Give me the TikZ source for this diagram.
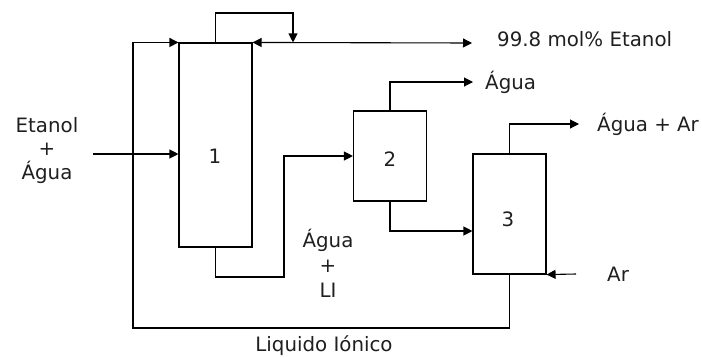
\documentclass[tikz,border=0pt]{standalone}
\usepackage{fontspec}
\setmainfont{DejaVu Sans}
\usetikzlibrary{arrows.meta}
\begin{document}
\begin{tikzpicture}[x=1bp,y=-1bp,
  unit/.style={draw,line width=1.1bp,minimum width=73bp,inner sep=0pt},
  flow/.style={line width=1.1bp,-{Triangle[length=9bp,width=9bp]}},
  dflow/.style={line width=1.1bp,{Triangle[length=9bp,width=9bp]}-{Triangle[length=9bp,width=9bp]}},
  txt/.style={inner sep=0pt,font=\fontsize{19.8bp}{24bp}\selectfont,text=black!88}]
\useasboundingbox (0,0) rectangle (702,357);
% units
\node[unit,minimum height=204bp] (u1) at (215.5,145) {};
\node[unit,minimum height=90bp] (u2) at (390,156) {};
\node[unit,minimum height=120bp] (u3) at (509.5,214) {};
\node[txt] (n1) at (215,156) {1};
\node[txt] (n2) at (390,159) {2};
\node[txt] (n3) at (508,219) {3};
% coordinates
\coordinate (feed) at (93,154);
\coordinate (loopA) at (215.5,13);
\coordinate (loopB) at (293,13);
\coordinate (topend) at (472,43);
\coordinate (rb) at (509.5,328);
\coordinate (rl) at (133,328);
\coordinate (b1) at (215.5,277);
\coordinate (b2) at (284,277);
\coordinate (t2) at (390,82);
\coordinate (t2e) at (473,82);
\coordinate (d2) at (390,231);
\coordinate (t3) at (509.5,124);
\coordinate (t3e) at (579,124);
\coordinate (ar) at (576,274);
% connectors
\draw[flow] (feed) -- (feed -| u1.west);
\draw[flow] (u1.north) -- (loopA) -- (loopB) -- (loopB |- u1.north);
\draw[dflow] (u1.north east) -- (topend);
\draw[flow] (u3.south) -- (rb) -- (rl) -- (rl |- u1.north) -- (u1.north west);
\draw[flow] (u1.south) -- (b1) -- (b2) -- (b2 |- u2.west) -- (u2.west);
\draw[flow] (u2.north) -- (t2) -- (t2e);
\draw[flow] (u2.south) -- (d2) -- (d2 -| u3.west);
\draw[flow] (u3.north) -- (t3) -- (t3e);
\draw[flow] (ar) -- (u3.south east);
% labels
\node[txt,anchor=base west] (tEt) at (497,46) {99.8 mol\% Etanol};
\node[txt,anchor=base west] (tAg) at (485,89) {Água};
\node[txt,anchor=base west] (tAgAr) at (597,131.5) {Água + Ar};
\node[txt,anchor=base west] (tAr) at (607,281.5) {Ar};
\node[txt,anchor=base] (f1) at (47,132) {Etanol};
\node[txt,anchor=base] (f2) at (47,155.5) {+};
\node[txt,anchor=base] (f3) at (47,179) {Água};
\node[txt,anchor=base] (l1) at (328,247) {Água};
\node[txt,anchor=base] (l2) at (328,272) {+};
\node[txt,anchor=base] (l3) at (328,297) {LI};
\node[txt,anchor=base] (li) at (324,351.5) {Liquido Iónico};
\end{tikzpicture}
\end{document}
